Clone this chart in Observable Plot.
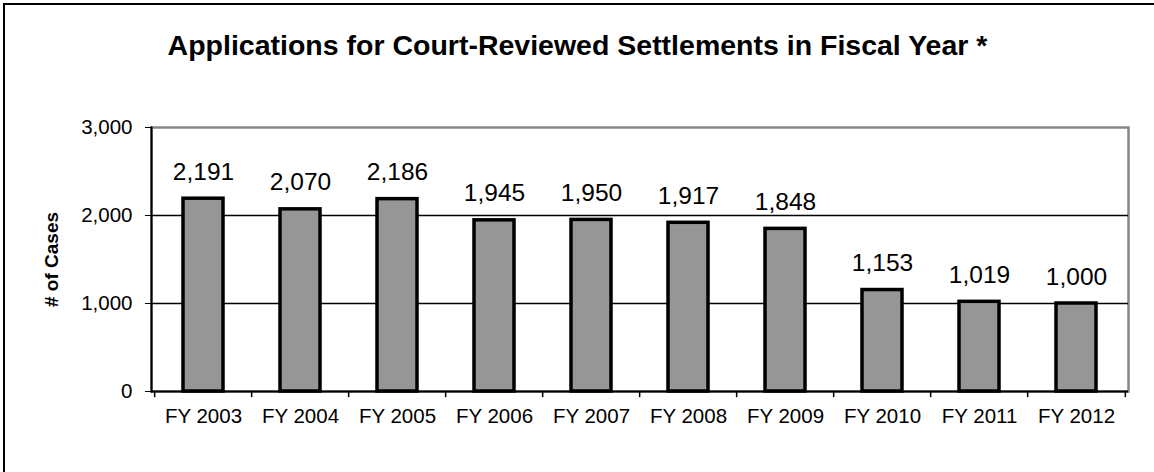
<!DOCTYPE html>
<html>
<head>
<meta charset="utf-8">
<script src="https://cdn.jsdelivr.net/npm/d3@7"></script>
<script src="https://cdn.jsdelivr.net/npm/@observablehq/plot@0.6"></script>
<style>
  html, body { margin: 0; padding: 0; background: #fff; }
  #wrap { position: relative; width: 1154px; height: 472px; overflow: hidden; font-family: Arial, "Liberation Sans", sans-serif; }
  #border { position: absolute; left: 3px; top: 3px; width: 1200px; height: 520px; border-left: 2px solid #000; border-top: 2px solid #000; box-sizing: border-box; }
  #chart { position: absolute; left: 0; top: 0; }
</style>
</head>
<body>
<div id="wrap"><div id="border"></div><div id="chart"></div></div>
<script>
const years = ["FY 2003","FY 2004","FY 2005","FY 2006","FY 2007","FY 2008","FY 2009","FY 2010","FY 2011","FY 2012"];
const cases = [2191, 2070, 2186, 1945, 1950, 1917, 1848, 1153, 1019, 1000];
const yTicks = [0, 1000, 2000, 3000];
const gridValues = [1000, 2000];
const titleText = "Applications for Court-Reviewed Settlements in Fiscal Year *";
const yLabel = "# of Cases";

const data = years.map((y, i) => ({year: y, value: cases[i]}));

const W = 1154, H = 472;
const mLeft = 151, mRight = 26, mTop = 127, mBottom = 81;
const step = (W - mLeft - mRight) / years.length;
const frameCenter = mLeft + (W - mLeft - mRight) / 2;

const plot = Plot.plot({
  width: W,
  height: H,
  marginLeft: mLeft,
  marginRight: mRight,
  marginTop: mTop,
  marginBottom: mBottom,
  style: {fontFamily: "Arial, 'Liberation Sans', sans-serif", color: "#000", background: "transparent"},
  x: {domain: years, paddingInner: 0.59, paddingOuter: 0.295, align: 0.5},
  y: {domain: [0, 3000]},
  marks: [
    Plot.frame({stroke: "#868686", strokeWidth: 2.5}),
    Plot.ruleY(gridValues, {stroke: "#000", strokeWidth: 1.5}),
    Plot.barY(data, {x: "year", y: "value", fill: "#969696", stroke: "#000", strokeWidth: 3.5}),
    Plot.text(data, {x: "year", y: "value", text: d => d3.format(",")(d.value), lineAnchor: "bottom", dy: -19, fontSize: 24.5, fill: "#000"}),
    Plot.ruleX(years, {x: d => d, dx: -step / 2, y1: 0, y2: -70, stroke: "#000", strokeWidth: 1.5}),
    Plot.ruleX([years[years.length - 1]], {x: d => d, dx: step / 2, y1: 0, y2: -70, stroke: "#000", strokeWidth: 1.5}),
    Plot.axisX({tickSize: 0, tickPadding: 17, fontSize: 20.5, label: null}),
    Plot.axisY({ticks: yTicks, tickFormat: d3.format(","), tickSize: 6, tickPadding: 13, fontSize: 20.5,
      label: yLabel, labelAnchor: "center", labelArrow: "none", labelOffset: 107}),
    Plot.frame({anchor: "left", stroke: "#000", strokeWidth: 2}),
    Plot.ruleY([0], {stroke: "#000", strokeWidth: 2}),
    Plot.text([titleText], {frameAnchor: "top", dx: W / 2 - frameCenter, dy: -82, fontSize: 28.5, fontWeight: "bold", fill: "#000", lineAnchor: "middle"})
  ]
});
document.getElementById("chart").appendChild(plot);
// bold y-axis label
plot.querySelectorAll("g[aria-label='y-axis label'] text").forEach(t => { t.setAttribute("font-weight", "bold"); t.setAttribute("font-size", "19"); });
</script>
</body>
</html>
